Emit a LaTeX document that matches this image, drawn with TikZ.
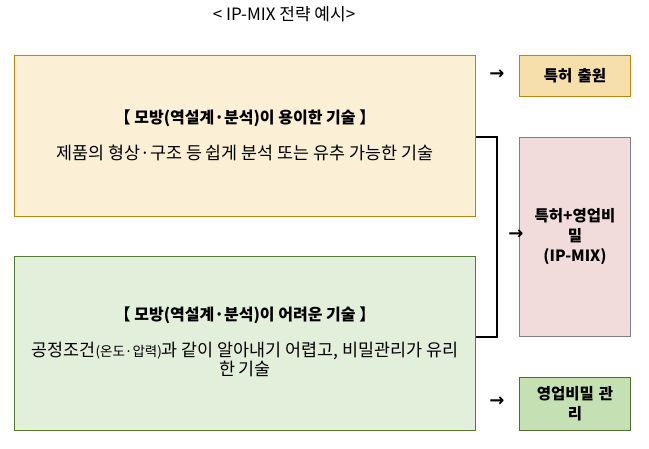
\documentclass[tikz,border=0pt]{standalone}
\usepackage{fontspec}
\setmainfont{Noto Sans CJK KR}
\newfontfamily\arrowfont{DejaVu Sans}
\usetikzlibrary{positioning}

\definecolor{easyfill}{HTML}{FBEFD5}
\definecolor{easyline}{HTML}{B8860B}
\definecolor{patfill}{HTML}{F6DFAA}
\definecolor{mixfill}{HTML}{F2DCDB}
\definecolor{mixline}{HTML}{808080}
\definecolor{hardfill}{HTML}{E2EFDA}
\definecolor{hardline}{HTML}{4E7E2E}
\definecolor{secfill}{HTML}{C5E0B3}
\definecolor{secline}{HTML}{4E6E2E}

\begin{document}
\begin{tikzpicture}[x=1pt,y=-1pt,
    techbox/.style={draw,line width=1pt,minimum width=461pt,anchor=north west,
      align=center,inner sep=0pt},
    resultbox/.style={draw,line width=1pt,minimum width=111pt,text width=100pt,
      anchor=north west,align=center,font=\fontsize{15.5}{20}\selectfont\bfseries,
      inner sep=0pt},
    headline/.style={font=\fontsize{16}{18}\selectfont\bfseries},
    bodyline/.style={font=\fontsize{17.4}{19}\selectfont,align=center},
    pointer/.style={font=\arrowfont\bfseries\fontsize{18}{18}\selectfont,inner sep=0pt}]
  \useasboundingbox (0,0) rectangle (649,449);

  % Titolo
  \node[font=\fontsize{17}{18}\selectfont] (title) at (284,14) {< IP-MIX 전략 예시>};

  % Tecnologie
  \node[techbox,fill=easyfill,draw=easyline,minimum height=161pt] (easy) at (14,55) {};
  \node[techbox,fill=hardfill,draw=hardline,minimum height=174pt] (hard) at (14,256) {};
  \node[headline] (easyhead) at (245,118) {【 모방(역설계·분석)이 용이한 기술 】};
  \node[bodyline] (easytext) at (245,153) {제품의 형상·구조 등 쉽게 분석 또는 유추 가능한 기술};
  \node[headline] (hardhead) at (245,315) {【 모방(역설계·분석)이 어려운 기술 】};
  \node[bodyline] (hardtext) at (245,359) {공정조건{\fontsize{13.5}{19}\selectfont(온도·압력)}과 같이 알아내기 어렵고, 비밀관리가 유리\\ 한 기술};

  % Strategie
  \node[resultbox,fill=patfill,draw=easyline,minimum height=41pt] (patent) at (519,55) {특허 출원};
  \node[resultbox,fill=mixfill,draw=mixline,minimum height=199pt] (mix) at (519,137) {특허+영업비\\밀\\(IP-MIX)};
  \node[resultbox,fill=secfill,draw=secline,minimum height=53pt] (secret) at (519,377) {영업비밀 관\\리};

  % Parentesi
  \coordinate (bend) at (497,0);
  \draw[line width=1.5pt] (easy.east |- mix.north) -| (bend |- mix.north) -- (bend |- mix.south) -- (hard.east |- mix.south);

  % Frecce
  \node[pointer] (toPatent) at (497,75) {→};
  \node[pointer] (toMix) at (516,235) {→};
  \node[pointer] (toSecret) at (497,402) {→};
\end{tikzpicture}
\end{document}
